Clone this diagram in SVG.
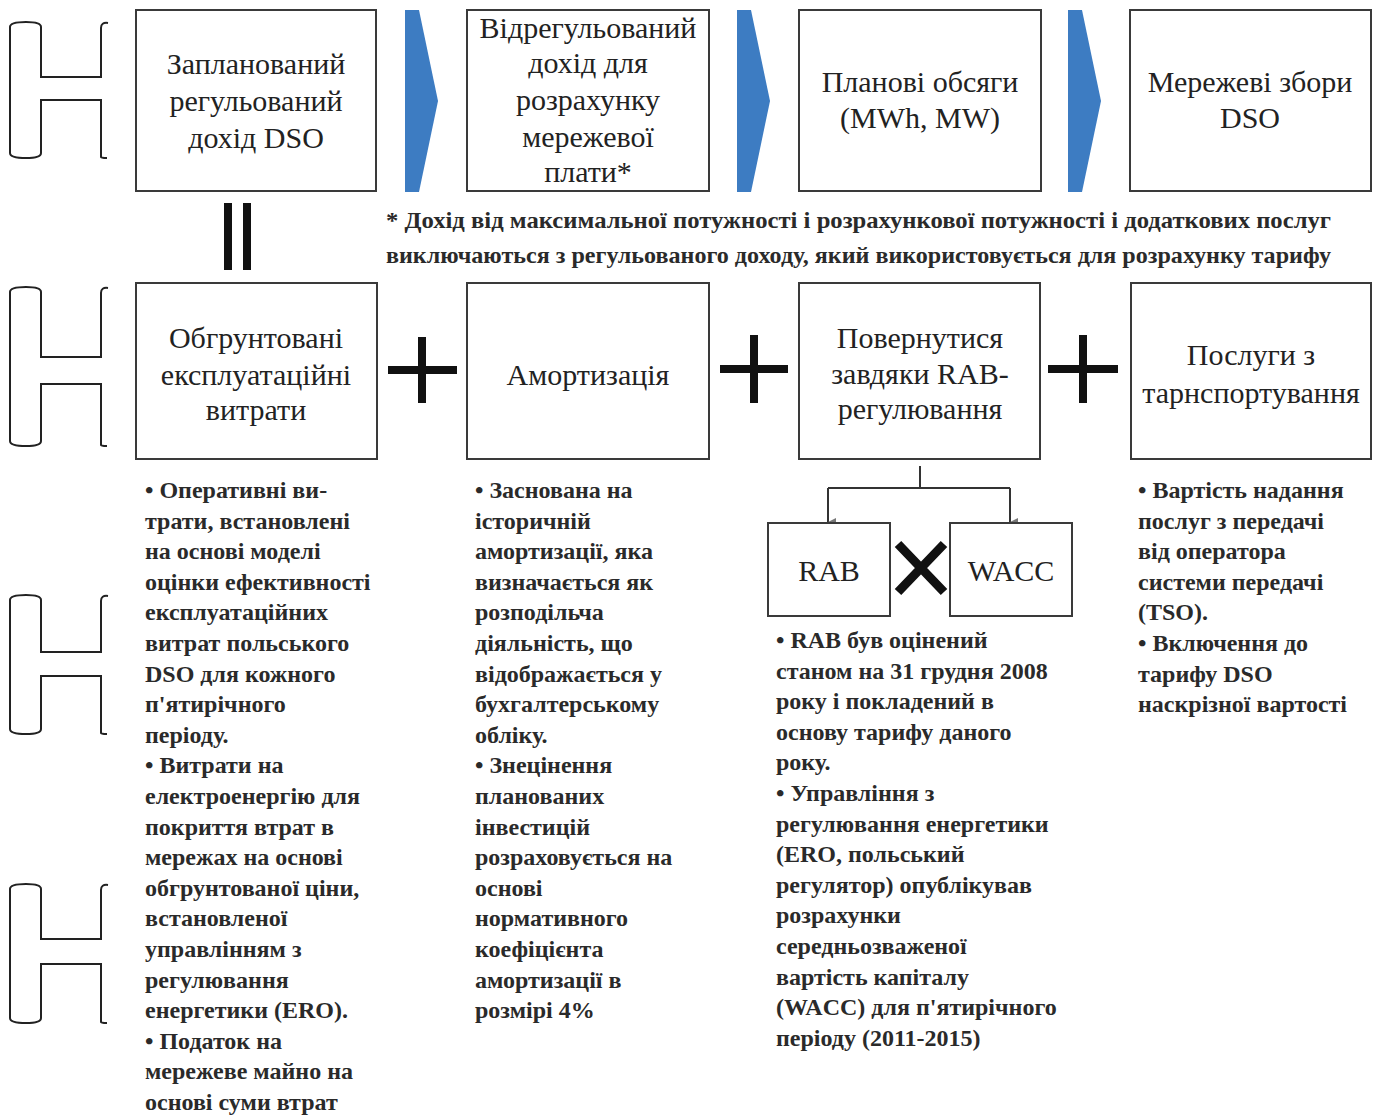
<svg xmlns="http://www.w3.org/2000/svg" width="1379" height="1119" viewBox="0 0 1379 1119">
<style>
.box{fill:#fff;stroke:#3a3a3a;stroke-width:2}
.title{font-family:"Liberation Serif","Times New Roman",serif;font-size:30px;fill:#222;text-anchor:middle}
.body{font-family:"Liberation Serif","Times New Roman",serif;font-size:24px;font-weight:bold;fill:#2a2a2a}
.note{font-family:"Liberation Serif","Times New Roman",serif;font-size:23px;font-weight:bold;fill:#2a2a2a}
.br{fill:none;stroke:#222;stroke-width:2}
.chev{fill:#3d7cc2}
.sign{stroke:#111;stroke-width:8;stroke-linecap:butt;fill:none}
.conn{stroke:#333;stroke-width:2;fill:none}
</style>
<defs>
<marker id="ah" viewBox="0 0 10 10" refX="5" refY="10" markerWidth="8" markerHeight="8" orient="auto-start-reverse" markerUnits="userSpaceOnUse">
<path d="M0 0 L10 0 L5 10 Z" fill="#777"/>
</marker>
</defs>
<rect width="1379" height="1119" fill="#fff"/>

<g id="brackets">
<path class="br" d="M108 23 Q101 22 101 28 L101 77 L41 77 L41 27 Q41 22 26 22 Q10 22 10 27 L10 153 Q10 158 26 158 Q41 158 41 153 L41 100 L101 100 L101 157 Q101 158 107 158"/>
<path class="br" d="M108 288 Q101 287 101 293 L101 357 L41 357 L41 292 Q41 287 26 287 Q10 287 10 292 L10 441 Q10 446 26 446 Q41 446 41 441 L41 384 L101 384 L101 445 Q101 446 107 446"/>
<path class="br" d="M108 596 Q101 595 101 601 L101 652 L41 652 L41 600 Q41 595 26 595 Q10 595 10 600 L10 729 Q10 734 26 734 Q41 734 41 729 L41 676 L101 676 L101 733 Q101 734 107 734"/>
<path class="br" d="M108 885 Q101 884 101 890 L101 939 L41 939 L41 889 Q41 884 26 884 Q10 884 10 889 L10 1018 Q10 1023 26 1023 Q41 1023 41 1018 L41 964 L101 964 L101 1022 Q101 1023 107 1023"/>
</g>

<g id="chevrons">
<path class="chev" d="M405 10 L419 10 L438 101 L419 192 L405 192 Z"/>
<path class="chev" d="M737 10 L751 10 L770 101 L751 192 L737 192 Z"/>
<path class="chev" d="M1068 10 L1082 10 L1101 101 L1082 192 L1068 192 Z"/>
</g>

<g id="node-planned">
<rect class="box" x="136" y="10" width="240" height="181"/>
<text class="title" x="256" y="74">Запланований</text>
<text class="title" x="256" y="111">регульований</text>
<text class="title" x="256" y="148">дохід DSO</text>
</g>
<g id="node-adjusted">
<rect class="box" x="467" y="10" width="242" height="181"/>
<text class="title" x="588" y="38">Відрегульований</text>
<text class="title" x="588" y="73">дохід для</text>
<text class="title" x="588" y="110">розрахунку</text>
<text class="title" x="588" y="147">мережевої</text>
<text class="title" x="588" y="182">плати*</text>
</g>
<g id="node-volumes">
<rect class="box" x="799" y="10" width="242" height="181"/>
<text class="title" x="920" y="92">Планові обсяги</text>
<text class="title" x="920" y="128">(MWh, MW)</text>
</g>
<g id="node-charges">
<rect class="box" x="1130" y="10" width="241" height="181"/>
<text class="title" x="1250" y="92">Мережеві збори</text>
<text class="title" x="1250" y="128">DSO</text>
</g>

<g id="equals">
<line class="sign" x1="228" y1="203" x2="228" y2="270"/>
<line class="sign" x1="247" y1="203" x2="247" y2="270"/>
</g>

<g id="footnote">
<text class="note" x="386" y="228" textLength="945" lengthAdjust="spacingAndGlyphs">* Дохід від максимальної потужності і розрахункової потужності і додаткових послуг</text>
<text class="note" x="386" y="263" textLength="945" lengthAdjust="spacingAndGlyphs">виключаються з регульованого доходу, який використовується для розрахунку тарифу</text>
</g>

<g id="node-opex">
<rect class="box" x="136" y="283" width="241" height="176"/>
<text class="title" x="256" y="348">Обгрунтовані</text>
<text class="title" x="256" y="385">експлуатаційні</text>
<text class="title" x="256" y="420">витрати</text>
</g>
<g id="node-depr">
<rect class="box" x="467" y="283" width="242" height="176"/>
<text class="title" x="588" y="385">Амортизація</text>
</g>
<g id="node-return">
<rect class="box" x="799" y="283" width="241" height="176"/>
<text class="title" x="920" y="348">Повернутися</text>
<text class="title" x="920" y="384">завдяки RAB-</text>
<text class="title" x="920" y="419">регулювання</text>
</g>
<g id="node-transport">
<rect class="box" x="1131" y="283" width="240" height="176"/>
<text class="title" x="1251" y="365">Послуги з</text>
<text class="title" x="1251" y="403">тарнспортування</text>
</g>

<g id="plus-signs">
<path class="sign" d="M388 370 L457 370 M422 337 L422 403"/>
<path class="sign" d="M720 369 L788 369 M754 335 L754 403"/>
<path class="sign" d="M1048 369 L1118 369 M1083 335 L1083 403"/>
</g>

<g id="connectors">
<path class="conn" d="M920 466 L920 488 M828 488 L1010 488"/>
<path class="conn" d="M828 488 L828 522" marker-end="url(#ah)"/>
<path class="conn" d="M1010 488 L1010 522" marker-end="url(#ah)"/>
</g>

<g id="node-rab">
<rect class="box" x="768" y="523" width="122" height="93"/>
<text class="title" x="829" y="581">RAB</text>
</g>
<g id="times">
<path class="sign" d="M898 544 L944 592 M944 544 L898 592" style="stroke-width:9"/>
</g>
<g id="node-wacc">
<rect class="box" x="950" y="523" width="122" height="93"/>
<text class="title" x="1011" y="581">WACC</text>
</g>

<g id="text-opex" class="body">
<text x="145" y="498">• Оперативні ви-</text>
<text x="145" y="528.6">трати, встановлені</text>
<text x="145" y="559.2">на основі моделі</text>
<text x="145" y="589.8">оцінки ефективності</text>
<text x="145" y="620.4">експлуатаційних</text>
<text x="145" y="651">витрат польського</text>
<text x="145" y="681.6">DSO для кожного</text>
<text x="145" y="712.2">п'ятирічного</text>
<text x="145" y="742.8">періоду.</text>
<text x="145" y="773.4">• Витрати на</text>
<text x="145" y="804">електроенергію для</text>
<text x="145" y="834.6">покриття втрат в</text>
<text x="145" y="865.2">мережах на основі</text>
<text x="145" y="895.8">обгрунтованої ціни,</text>
<text x="145" y="926.4">встановленої</text>
<text x="145" y="957">управлінням з</text>
<text x="145" y="987.6">регулювання</text>
<text x="145" y="1018.2">енергетики (ERO).</text>
<text x="145" y="1048.8">• Податок на</text>
<text x="145" y="1079.4">мережеве майно на</text>
<text x="145" y="1110">основі суми втрат</text>
</g>

<g id="text-depr" class="body">
<text x="475" y="498">• Заснована на</text>
<text x="475" y="528.6">історичній</text>
<text x="475" y="559.2">амортизації, яка</text>
<text x="475" y="589.8">визначається як</text>
<text x="475" y="620.4">розподільча</text>
<text x="475" y="651">діяльність, що</text>
<text x="475" y="681.6">відображається у</text>
<text x="475" y="712.2">бухгалтерському</text>
<text x="475" y="742.8">обліку.</text>
<text x="475" y="773.4">• Знецінення</text>
<text x="475" y="804">планованих</text>
<text x="475" y="834.6">інвестицій</text>
<text x="475" y="865.2">розраховується на</text>
<text x="475" y="895.8">основі</text>
<text x="475" y="926.4">нормативного</text>
<text x="475" y="957">коефіцієнта</text>
<text x="475" y="987.6">амортизації в</text>
<text x="475" y="1018.2">розмірі 4%</text>
</g>

<g id="text-return" class="body">
<text x="776" y="648">• RAB був оцінений</text>
<text x="776" y="678.6">станом на 31 грудня 2008</text>
<text x="776" y="709.2">року і покладений в</text>
<text x="776" y="739.8">основу тарифу даного</text>
<text x="776" y="770.4">року.</text>
<text x="776" y="801">• Управління з</text>
<text x="776" y="831.6">регулювання енергетики</text>
<text x="776" y="862.2">(ERO, польський</text>
<text x="776" y="892.8">регулятор) опублікував</text>
<text x="776" y="923.4">розрахунки</text>
<text x="776" y="954">середньозваженої</text>
<text x="776" y="984.6">вартість капіталу</text>
<text x="776" y="1015.2">(WACC) для п'ятирічного</text>
<text x="776" y="1045.8">періоду (2011-2015)</text>
</g>

<g id="text-transport" class="body">
<text x="1138" y="498">• Вартість надання</text>
<text x="1138" y="528.6">послуг з передачі</text>
<text x="1138" y="559.2">від оператора</text>
<text x="1138" y="589.8">системи передачі</text>
<text x="1138" y="620.4">(TSO).</text>
<text x="1138" y="651">• Включення до</text>
<text x="1138" y="681.6">тарифу DSO</text>
<text x="1138" y="712.2">наскрізної вартості</text>
</g>
</svg>
